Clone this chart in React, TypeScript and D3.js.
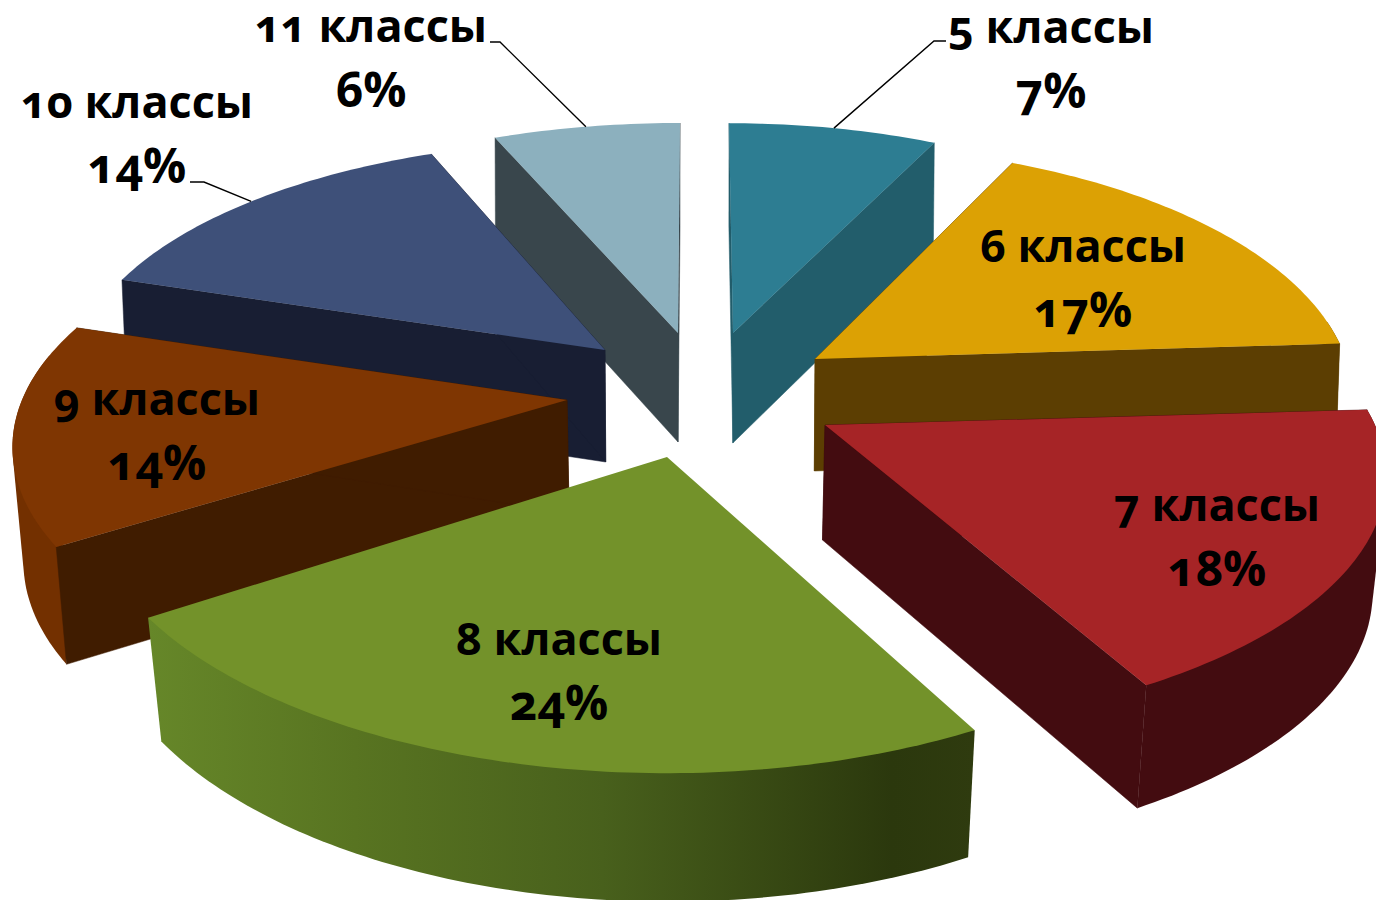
import React from "react";
import * as d3 from "d3";

const categories = ["5 классы", "6 классы", "7 классы", "8 классы", "9 классы", "10 классы", "11 классы"];
const shares = [7, 17, 18, 24, 14, 14, 6];
const percentLabels = ["7%", "17%", "18%", "24%", "14%", "14%", "6%"];
const topColors = ["#2d7d92", "#dca104", "#a62426", "#73922a", "#7f3602", "#3e5079", "#8cb0be"];
const cutColors = ["#225d6b", "#5c3e02", "#430c10", "#2c360b", "#401c00", "#181e33", "#39464c"];
const outerColors = ["#225d6b", "#5c3e02", "#430c10", "url(#greenWall)", "#733000", "#181e33", "#39464c"];

// Geometry of each exploded slice: apex, plane radii, perspective, thickness, taper, skew
const apexX = [733, 815, 825, 667, 567, 605, 678];
const apexY = [333, 359, 425, 457, 400, 350, 333];
const radiusX = [490, 531, 550, 580, 545, 528, 502];
const radiusY = [214, 248, 245, 283, 247, 236, 210];
const persp = [0.02, 0.16, 0.2, 0.105, 0.185, 0.128, 0];
const thickness = [110, 112, 115, 119, 113, 112, 109];
const taper = [0.004, 0.006, 0.02, 0.024, 0.016, 0.008, 0.002];
const skew = [0.019, 0, 0, 0, 0, 0, -0.0095];
const showCut = [true, true, true, false, true, true, true];
const paintOrder = [0, 6, 5, 1, 4, 2, 3];

const labelX = [1051, 1083, 1217, 559, 157, 137, 371];
const labelY = [43, 262, 521, 655, 415, 118, 42];
const leaderElbow: ([number, number, number] | null)[] = [
  [934, 41, 946], null, null, null, null, [204, 182, 190], [500, 42, 490],
];

const W = 1376;
const H = 900;
const vanishX = 700;
const fontFamily = "'Open Sans', 'Noto Sans', sans-serif";

const arcs = d3.pie<number>().sort(null)(shares);
const line = d3.line();

type P = [number, number];

function top(i: number, t: number): P {
  const s = 1 / (1 + persp[i] * Math.cos(t));
  const dy = radiusY[i] * s * Math.cos(t);
  return [apexX[i] + radiusX[i] * s * Math.sin(t) - skew[i] * dy, apexY[i] - dy];
}
function apex(i: number): P {
  return [apexX[i], apexY[i]];
}
function down(i: number, p: P): P {
  const d = thickness[i] + 0.03 * (p[1] - apexY[i]);
  return [p[0] - (p[0] - vanishX) * taper[i], p[1] + d];
}
function sample(i: number, a0: number, a1: number): P[] {
  const n = Math.max(2, Math.ceil((a1 - a0) * 60));
  return d3.range(n + 1).map((k) => top(i, a0 + ((a1 - a0) * k) / n));
}

export default function App() {
  return (
    <svg
      width={W}
      height={H}
      viewBox={`0 0 ${W} ${H}`}
      style={{ position: "fixed", left: 0, top: 0, background: "#fff" }}
    >
      <defs>
        <linearGradient id="greenWall" gradientUnits="userSpaceOnUse" x1={148} x2={975} y1={0} y2={0}>
          <stop offset="0" stopColor="#668729" />
          <stop offset="0.25" stopColor="#587421" />
          <stop offset="0.55" stopColor="#48601c" />
          <stop offset="0.9" stopColor="#2b380d" />
          <stop offset="1" stopColor="#2f3b0f" />
        </linearGradient>
      </defs>
      {paintOrder.map((i) => {
        const { startAngle: a0, endAngle: a1 } = arcs[i];
        const ap = apex(i);
        const apB = down(i, ap);
        const s = top(i, a0);
        const e = top(i, a1);
        const f0 = Math.max(a0, Math.PI * 0.45);
        const f1 = Math.min(a1, Math.PI * 1.56);
        const outer = f1 > f0 ? sample(i, f0, f1) : [];
        const hull = outer.length > 0 ? d3.polygonHull([...outer, ...outer.map((p) => down(i, p))]) : null;
        const topPoly = [ap, ...sample(i, a0, a1)];
        return (
          <g key={categories[i]}>
            {hull && <path d={line(hull as P[])! + "Z"} fill={outerColors[i]} />}
            {showCut[i] && (
              <>
                <path d={line([ap, s, down(i, s), apB])! + "Z"} fill={cutColors[i]} stroke={cutColors[i]} strokeWidth={0.5} />
                <path d={line([ap, e, down(i, e), apB])! + "Z"} fill={cutColors[i]} stroke={cutColors[i]} strokeWidth={0.5} />
              </>
            )}
            <path d={line(topPoly)! + "Z"} fill={topColors[i]} />
          </g>
        );
      })}
      {categories.map((c, i) => {
        const el = leaderElbow[i];
        const mid = top(i, (arcs[i].startAngle + arcs[i].endAngle) / 2);
        return (
          <g key={c + "-label"} fontFamily={fontFamily} fontWeight={700} fill="#000" textAnchor="middle">
            {el && (
              <path
                d={line([mid, [el[0], el[1]], [el[2], el[1]]])!}
                fill="none"
                stroke="#000"
                strokeWidth={1.4}
              />
            )}
            <text
              x={labelX[i]}
              y={labelY[i]}
              fontSize={45}
              style={{ fontFeatureSettings: '"onum"' }}
            >
              {c}
            </text>
            <text
              x={labelX[i]}
              y={labelY[i] + 65}
              fontSize={48}
              style={{ fontFeatureSettings: '"onum"' }}
            >
              {percentLabels[i]}
            </text>
          </g>
        );
      })}
    </svg>
  );
}
